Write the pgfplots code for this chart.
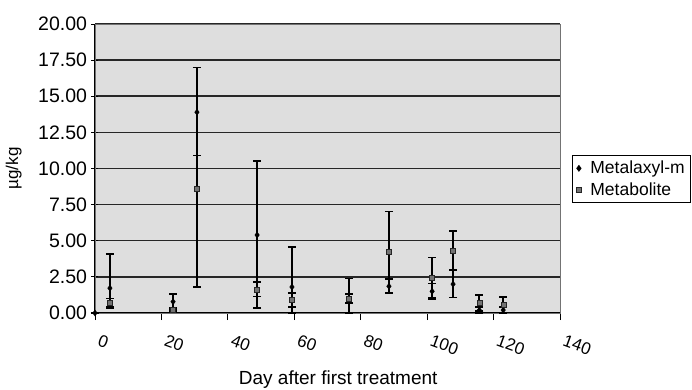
\documentclass[border=0pt]{standalone}
\usepackage{pgfplots}
\pgfplotsset{compat=1.18}
\usepackage{pgfplotstable}
\usepackage{fontspec}
\setmainfont{Liberation Sans}

\pgfplotstableread{
x y ep em
0 0 0 0
4.5 1.72 2.35 1.40
23.5 0.78 0.52 0.58
30.7 13.9 3.1 3.0
48.8 5.40 5.10 5.05
59.3 1.80 2.75 1.80
76.5 0.80 1.60 0.80
88.5 1.85 0.50 0.49
101.5 1.50 0.55 0.55
107.8 2.00 0.95 0.94
115.7 0.20 0.20 0.20
122.9 0.20 0.20 0.20
}\metalaxyl

\pgfplotstableread{
x y ep em
4.5 0.70 0.30 0.30
23.5 0.20 0.15 0.15
30.7 8.60 8.40 6.80
48.8 1.64 0.50 0.50
59.3 0.90 0.50 0.50
76.5 1.00 0.30 0.30
88.5 4.23 2.80 2.80
101.5 2.45 1.40 1.40
107.8 4.34 1.33 1.33
115.7 0.70 0.55 0.55
122.9 0.55 0.57 0.55
}\metabolite

\begin{document}
\begin{tikzpicture}
\path[use as bounding box] (-95pt,-77pt) rectangle (597pt,313pt);
\begin{axis}[
  at={(0,0)}, anchor=south west,
  scale only axis, width=465pt, height=289pt,
  xmin=0, xmax=140, ymin=0, ymax=20,
  xtick={0,20,...,140}, ytick={0,2.5,...,20},
  tick pos=left,
  xtick align=outside, ytick align=center,
  major tick length=7pt,
  tick style={black, line width=0.8pt},
  /pgf/number format/assume math mode=true,
  yticklabel={\pgfmathprintnumber[fixed, fixed zerofill, precision=2]{\tick}},
  xticklabel={\pgfmathprintnumber[fixed, precision=0]{\tick}},
  yticklabel style={font=\fontsize{19.5}{22}\selectfont, anchor=east, xshift=-1pt},
  xticklabel style={font=\fontsize{17}{20}\selectfont, rotate=-20, anchor=north west, xshift=7pt, yshift=-8pt},
  axis background/.style={fill=black!13},
  axis line style={black!55, line width=0.6pt},
  ymajorgrids, major grid style={black!85, line width=1.5pt},
  xlabel={Day after first treatment},
  xlabel style={font=\fontsize{19}{22}\selectfont, at={(axis description cs:0.523,0)}, anchor=center, yshift=-67pt},
  ylabel={µg/kg},
  ylabel style={font=\fontsize{17}{20}\selectfont, at={(axis description cs:-0.15,0.5)}, anchor=south},
  legend style={at={(axis description cs:1.026,0.547)}, anchor=north west, draw=black, line width=0.6pt, fill=white,
    font=\fontsize{17.5}{21}\selectfont, row sep=3pt, inner xsep=4pt, inner ysep=4pt},
  legend image post style={xshift=-3pt},
  legend cell align=left,
  clip=false,
]
\draw[black, line width=1pt] (rel axis cs:0,0) -- (rel axis cs:0,1);
\draw[black, line width=1pt] (rel axis cs:0,0) -- (rel axis cs:1,0);
\addplot[only marks, black, mark=diamond*, mark size=3pt,
  error bars/.cd, y dir=both, y explicit,
  error bar style={black, line width=1.6pt},
  error mark options={black, rotate=90, mark size=4pt, line width=1.6pt}]
  table[x=x, y=y, y error plus=ep, y error minus=em] {\metalaxyl};
\addlegendentry{\hspace{7pt}Metalaxyl-m}
\addplot[only marks, mark=square*, mark size=2.5pt, mark options={fill=black!55, draw=black!85},
  error bars/.cd, y dir=both, y explicit,
  error bar style={black, line width=1.6pt},
  error mark options={black, rotate=90, mark size=4pt, line width=1.6pt}]
  table[x=x, y=y, y error plus=ep, y error minus=em] {\metabolite};
\addlegendentry{\hspace{7pt}Metabolite}
\end{axis}
\end{tikzpicture}
\end{document}
